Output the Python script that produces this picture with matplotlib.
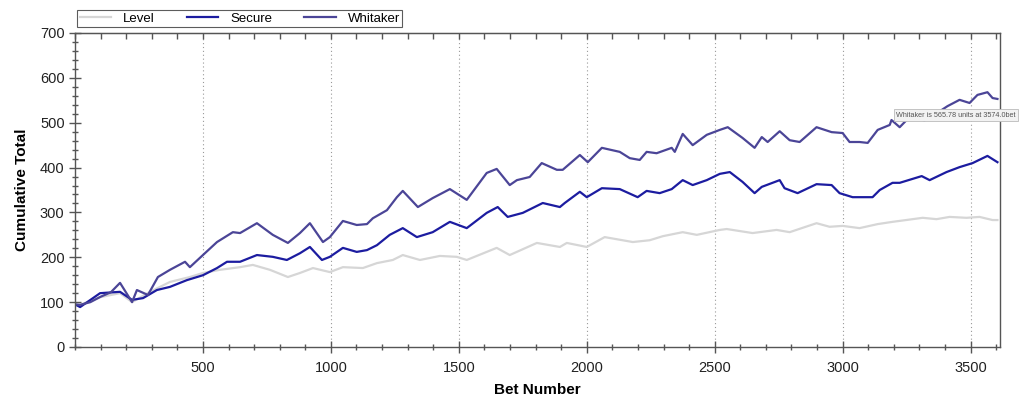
import matplotlib
matplotlib.use("Agg")
import matplotlib.pyplot as plt
from matplotlib.ticker import MultipleLocator, NullFormatter

plt.rcParams['font.family'] = ['Liberation Sans', 'DejaVu Sans']

# ---- data ----
whitaker_x = [0, 20, 60, 100, 140, 176, 223, 242, 285, 324, 371, 430, 449, 500, 555, 617, 645,
              711, 773, 832, 879, 918, 969, 996, 1047, 1101, 1141, 1164, 1219, 1258, 1281, 1340,
              1398, 1465, 1531, 1609, 1648, 1699, 1727, 1777, 1824, 1883, 1906, 1973, 2004, 2059,
              2129, 2168, 2207, 2234, 2273, 2332, 2344, 2375, 2414, 2469, 2520, 2551, 2609, 2656,
              2684, 2707, 2754, 2793, 2832, 2898, 2957, 3000, 3027, 3066, 3098, 3137, 3184, 3191,
              3223, 3262, 3320, 3370, 3410, 3457, 3496, 3527, 3566, 3586, 3605]
whitaker_y = [95, 94, 100, 112, 122, 143, 100, 127, 116, 156, 172, 190, 178, 205, 234, 256, 254,
              276, 250, 232, 254, 276, 234, 245, 281, 272, 274, 287, 305, 334, 348, 312,
              332, 352, 328, 388, 397, 361, 372, 379, 410, 395, 395, 428, 412, 444,
              435, 421, 417, 435, 432, 444, 435, 475, 450, 473, 484, 490, 466, 444,
              468, 457, 481, 461, 457, 490, 479, 477, 457, 457, 455, 484, 495, 506,
              490, 513, 505, 522, 537, 551, 544, 562, 568, 555, 553]

secure_x = [0, 20, 98, 176, 223, 266, 320, 371, 437, 500, 555, 594, 645, 711, 773, 828, 879,
            918, 965, 996, 1047, 1101, 1141, 1180, 1230, 1281, 1336, 1398, 1465, 1531, 1609,
            1652, 1691, 1750, 1828, 1895, 1914, 1973, 2000, 2059, 2129, 2199, 2234, 2285, 2332,
            2375, 2414, 2469, 2520, 2559, 2609, 2656, 2684, 2754, 2773, 2824, 2898, 2957, 2988,
            3039, 3094, 3117, 3145, 3195, 3223, 3309, 3340, 3406, 3457, 3508, 3566, 3605]
secure_y = [95, 89, 120, 123, 105, 109, 127, 134, 149, 160, 176, 190, 190, 205, 201, 194, 209,
            223, 194, 201, 221, 212, 216, 227, 250, 265, 245, 256, 279, 265, 299,
            312, 290, 299, 321, 312, 321, 346, 334, 354, 352, 334, 348, 343, 352,
            372, 361, 372, 386, 390, 368, 343, 357, 372, 354, 343, 363, 361, 343,
            334, 334, 334, 350, 366, 366, 381, 372, 390, 401, 410, 426, 412]

level_x = [0, 20, 98, 176, 223, 293, 371, 449, 500, 566, 645, 695, 762, 832, 879, 930, 996,
           1047, 1125, 1180, 1242, 1281, 1348, 1426, 1492, 1531, 1648, 1699, 1805, 1895, 1922,
           2000, 2070, 2180, 2246, 2297, 2375, 2430, 2520, 2547, 2648, 2742, 2793, 2898, 2949,
           3000, 3066, 3137, 3195, 3313, 3367, 3418, 3484, 3535, 3586, 3605]
level_y = [95, 94, 111, 120, 100, 123, 145, 156, 165, 172, 178, 183, 172, 156, 165, 176, 167,
           178, 176, 187, 194, 205, 194, 203, 201, 194, 221, 205, 232, 223, 232,
           223, 245, 234, 238, 247, 256, 250, 261, 263, 254, 261, 256, 276, 268,
           270, 265, 274, 279, 288, 285, 290, 288, 290, 283, 283]

series_names = ["Level", "Secure", "Whitaker"]
x_ticks = [500, 1000, 1500, 2000, 2500, 3000, 3500]
y_ticks = [0, 100, 200, 300, 400, 500, 600, 700]

# ---- figure ----
fig = plt.figure(figsize=(10.24, 4.05), dpi=100)
ax = fig.add_axes([75/1024, 1-347/405, (1000-75)/1024, (347-33)/405])

c_level, c_secure, c_whit = "#d6d6d6", "#1c1ca0", "#4b4597"
ax.plot(level_x, level_y, color=c_level, lw=1.6, label=series_names[0])
ax.plot(secure_x, secure_y, color=c_secure, lw=1.6, label=series_names[1])
ax.plot(whitaker_x, whitaker_y, color=c_whit, lw=1.6, label=series_names[2])

ax.set_xlim(0, 3615)
ax.set_ylim(0, 700)
ax.set_xticks(x_ticks)
ax.set_yticks(y_ticks)
ax.xaxis.set_minor_locator(MultipleLocator(100))
ax.yaxis.set_minor_locator(MultipleLocator(20))

spine_c = "#555555"
for s in ax.spines.values():
    s.set_color(spine_c)
    s.set_linewidth(1.0)

ax.tick_params(axis='both', which='major', direction='inout', length=8, width=1,
               color=spine_c, labelsize=10.5, labelcolor="#222222")
ax.tick_params(axis='both', which='minor', direction='inout', length=5, width=1, color=spine_c)
ax.tick_params(axis='x', which='major', pad=6)

# top axis: inward ticks only
top = ax.secondary_xaxis('top')
top.set_xticks(x_ticks)
top.xaxis.set_minor_locator(MultipleLocator(100))
top.xaxis.set_major_formatter(NullFormatter())
top.tick_params(axis='x', which='both', direction='in', length=4, width=1, color=spine_c)
top.spines['top'].set_color(spine_c)

for xv in x_ticks:
    ax.axvline(xv, color="#999999", lw=0.8, ls=(0, (1, 2.5)), zorder=0)

ax.set_xlabel("Bet Number", fontsize=11, fontweight='bold', labelpad=6)
ax.set_ylabel("Cumulative Total", fontsize=11, fontweight='bold', labelpad=8)

leg = ax.legend(loc='lower left', bbox_to_anchor=(-0.002, 1.005), ncol=3, frameon=True,
                fancybox=False, edgecolor="#333333", fontsize=9.5, handlelength=2.4,
                columnspacing=2.4, borderpad=0.2, handletextpad=0.9, borderaxespad=0.3)
leg.get_frame().set_linewidth(0.8)

ax.text(3210, 517, "Whitaker is 565.78 units at 3574.0bet", fontsize=5.2, color="#555555",
        va='center', ha='left', clip_on=False,
        bbox=dict(boxstyle='square,pad=0.35', fc='#f2f2f2', ec='#bbbbbb', lw=0.6))

fig.savefig("out.png", dpi=100)
